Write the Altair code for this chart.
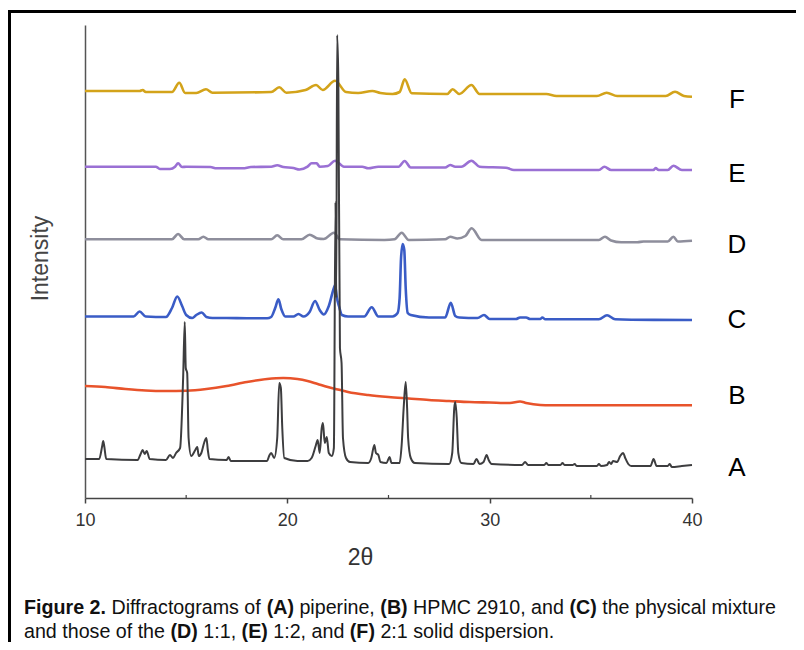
import altair as alt
import pandas as pd

# ---------------- data (2theta, intensity in arbitrary units) -------------
trace_A = [
    (10.0, 39), (10.7, 39), (10.85, 52), (10.9, 57), (10.95, 52), (11.05, 39),
    (12.6, 38), (12.75, 44), (12.85, 48), (12.95, 44), (13.05, 47), (13.2, 39),
    (14.0, 38), (14.2, 43), (14.35, 40), (14.5, 45), (14.7, 50), (14.85, 120),
    (14.93, 176), (14.98, 130), (15.05, 125), (15.12, 60), (15.25, 42), (15.45, 48),
    (15.55, 51), (15.62, 42), (15.75, 45), (15.9, 56), (16.0, 60), (16.07, 48),
    (16.15, 39), (17.0, 38), (17.1, 41), (17.2, 37), (19.0, 37), (19.1, 42),
    (19.2, 45), (19.35, 40), (19.5, 60), (19.6, 115), (19.68, 110), (19.75, 70),
    (19.85, 40), (20.5, 37), (21.0, 37), (21.2, 40), (21.4, 52), (21.5, 58),
    (21.6, 45), (21.7, 70), (21.76, 75), (21.85, 55), (21.95, 61), (22.05, 45),
    (22.2, 42), (22.3, 50), (22.38, 296), (22.42, 200), (22.46, 463), (22.52, 420),
    (22.6, 150), (22.68, 135), (22.75, 60), (22.9, 40), (23.1, 36), (24.0, 35),
    (24.15, 40), (24.3, 53), (24.38, 45), (24.5, 43), (24.6, 36), (24.9, 35),
    (25.05, 41), (25.15, 35), (25.55, 35), (25.65, 53), (25.75, 90), (25.85, 116),
    (25.92, 90), (25.97, 60), (26.1, 40), (26.3, 35), (28.0, 34), (28.15, 45),
    (28.25, 90), (28.3, 96), (28.37, 81), (28.45, 45), (28.6, 35), (29.2, 34),
    (29.35, 39), (29.5, 34), (29.7, 36), (29.85, 43), (29.95, 38), (30.1, 34),
    (31.6, 33), (31.75, 36), (31.9, 33), (32.7, 33), (32.8, 35), (32.9, 33),
    (33.5, 33), (33.6, 35), (33.7, 33), (34.1, 33), (34.2, 34), (34.3, 32),
    (35.3, 32), (35.4, 34), (35.5, 32), (35.8, 33), (35.9, 36), (36.0, 34),
    (36.1, 37), (36.3, 36), (36.45, 42), (36.6, 45), (36.7, 40), (36.85, 34),
    (37.0, 32), (37.95, 32), (38.1, 39), (38.25, 32), (38.8, 32), (38.9, 34),
    (39.0, 31), (39.5, 32), (40.0, 33),
]

trace_B = [
    (10.0, 112), (11.0, 111), (12.0, 109), (13.0, 107.5), (14.0, 107), (15.0, 107.3),
    (16.0, 109), (17.0, 112), (18.0, 116), (19.0, 119), (19.8, 120), (20.5, 119),
    (21.0, 117), (21.5, 114), (22.0, 111), (22.5, 108.5), (23.0, 106), (24.0, 103),
    (25.0, 101), (26.0, 99.5), (27.0, 98), (28.0, 97), (29.0, 96), (30.0, 95.5),
    (31.0, 95), (31.5, 96.5), (31.8, 95), (32.5, 93), (33.0, 92.7), (35.0, 92.7),
    (40.0, 92.7),
]

trace_C = [
    (10.0, 181.5), (12.4, 181.5), (12.7, 186.5), (13.0, 181.5), (14.0, 181),
    (14.3, 190), (14.56, 201.5), (14.8, 192), (15.0, 183), (15.3, 180), (15.5, 183),
    (15.77, 185.5), (16.0, 181), (16.3, 180), (17.0, 180), (18.0, 179.7),
    (19.0, 179.7), (19.2, 181), (19.4, 190), (19.56, 198.7), (19.7, 189),
    (19.9, 181.5), (20.3, 181.5), (20.55, 184), (20.8, 181.5), (21.1, 186),
    (21.37, 197), (21.6, 188), (21.8, 183.5), (22.05, 192), (22.3, 210),
    (22.36, 213), (22.45, 200), (22.55, 192), (22.7, 183), (23.0, 181.5),
    (23.8, 181.5), (24.17, 190.7), (24.5, 181.5), (25.2, 181.5), (25.45, 185),
    (25.55, 200), (25.62, 240), (25.7, 254), (25.78, 248), (25.85, 210),
    (25.95, 185), (26.1, 183), (27.0, 180.5), (27.8, 180.5), (28.08, 195.3),
    (28.3, 182), (28.5, 180.5), (29.4, 180), (29.72, 183), (30.0, 179),
    (31.3, 179), (31.5, 180.5), (31.8, 180.5), (32.0, 179), (32.5, 179),
    (32.6, 180.5), (32.75, 178.7), (35.4, 178.7), (35.8, 182.7), (36.2, 178.7),
    (37.0, 178.2), (40.0, 178),
]

trace_D = [
    (10.0, 258.7), (14.3, 258.7), (14.6, 264), (14.9, 258.7), (15.6, 258.7),
    (15.85, 261.3), (16.1, 258.7), (19.2, 258.7), (19.5, 262.7), (19.8, 258.7),
    (20.7, 258.7), (21.1, 263.3), (21.5, 259.5), (21.8, 259), (22.3, 265.3),
    (22.6, 258.7), (24.8, 258), (25.3, 258.7), (25.65, 265.3), (26.0, 258),
    (27.8, 258.7), (28.05, 261.3), (28.4, 259.5), (28.8, 262), (29.11, 269.7),
    (29.6, 258), (35.4, 258), (35.7, 261.3), (36.0, 257.5), (36.5, 255.7),
    (37.3, 255.7), (37.6, 256.5), (38.8, 256.5), (39.08, 261.3), (39.3, 256.5),
    (40.0, 257.3),
]

trace_E = [
    (10.0, 331.3), (13.5, 331.3), (13.7, 329), (14.2, 329), (14.45, 331.3),
    (14.6, 334.7), (14.8, 331), (15.0, 331.3), (16.2, 331), (16.5, 329.7),
    (17.8, 329.7), (18.2, 331), (19.2, 331.3), (19.5, 332.7), (19.8, 331),
    (20.3, 330), (20.6, 328.5), (21.0, 331.3), (21.2, 334.7), (21.45, 334.7),
    (21.6, 331.3), (22.0, 332), (22.36, 337.3), (22.8, 331.3), (23.7, 331.3),
    (24.0, 329.7), (24.5, 331.3), (25.5, 331.3), (25.8, 337), (26.1, 330.5),
    (27.8, 330.5), (28.05, 333), (28.3, 331.3), (28.6, 331.3), (29.1, 337.3),
    (29.5, 331.3), (30.8, 330.3), (31.2, 328), (35.4, 328), (35.67, 331.3),
    (36.0, 328), (38.1, 328), (38.2, 330), (38.35, 328), (38.8, 328),
    (39.08, 332.3), (39.5, 328), (40.0, 328),
]

trace_F = [
    (10.0, 407), (12.7, 407), (12.85, 408), (13.0, 406), (14.3, 406), (14.66, 415.3),
    (14.95, 405), (15.5, 405), (15.98, 408.7), (16.3, 405.3), (19.2, 406),
    (19.6, 410.7), (19.95, 405.3), (20.9, 408), (21.42, 413), (21.75, 408),
    (22.36, 417.3), (22.9, 406), (23.5, 405), (24.2, 407), (24.6, 405), (25.2, 404),
    (25.55, 406), (25.8, 418.7), (26.15, 404.7), (27.9, 404), (28.17, 408.7),
    (28.5, 404), (29.1, 413), (29.5, 404), (32.8, 404), (33.3, 402), (35.3, 402),
    (35.78, 405.3), (36.3, 402), (38.7, 402), (39.16, 406.3), (39.6, 402),
    (40.0, 401.3),
]

series_names = ["A", "B", "C", "D", "E", "F"]
series_colors = ["#3d3d3f", "#e8532b", "#3a5cc6", "#8e8e9c", "#9a70d4", "#d3a31a"]
label_levels = [30, 102, 178, 253, 324, 398]   # where the letters sit

x_ticks = [10, 20, 30, 40]
x_minor = [15, 25, 35]

caption_line1 = [("Figure 2.", True), ("Diffractograms of", False), ("(A)", True),
                 ("piperine,", False), ("(B)", True), ("HPMC 2910, and", False),
                 ("(C)", True), ("the physical mixture", False)]
caption_line2 = [("and those of the", False), ("(D)", True), ("1:1,", False), ("(E)", True),
                 ("1:2, and", False), ("(F)", True), ("2:1 solid dispersion.", False)]

# ---------------- layout ----------------
W, H = 607, 473
CAP_X0 = -61          # caption left edge, relative to plot origin
CAP_Y = [583, 607]    # caption line centres
CAP_W1 = 752          # width of the first caption line in the reference

# Arial / Liberation Sans advance widths (1/1000 em)
REG = {' ': 278, '(': 333, ')': 333, ',': 278, '.': 278, ':': 278,
       'A': 667, 'B': 667, 'C': 722, 'D': 722, 'E': 667, 'F': 611, 'H': 722, 'M': 833, 'P': 667,
       'a': 556, 'b': 556, 'c': 500, 'd': 556, 'e': 556, 'f': 278, 'g': 556, 'h': 556,
       'i': 222, 'l': 222, 'm': 833, 'n': 556, 'o': 556, 'p': 556, 'r': 333, 's': 500,
       't': 278, 'u': 556, 'x': 500, 'y': 500}
BLD = {' ': 278, '(': 333, ')': 333, '.': 278, 'A': 722, 'B': 722, 'C': 722, 'D': 722,
       'E': 667, 'F': 611, 'i': 278, 'g': 611, 'u': 611, 'r': 389, 'e': 556}


def em_width(s, bold):
    tbl = BLD if bold else REG
    return sum(tbl.get(ch, 556) for ch in s) / 1000.0


def line_em(segs):
    return sum(em_width(t, b) for t, b in segs) + 0.278 * (len(segs) - 1)


CAP_FS = CAP_W1 / line_em(caption_line1)

cap_rows = []
for li, segs in enumerate([caption_line1, caption_line2]):
    xpos = CAP_X0
    for t, b in segs:
        cap_rows.append({"t": t, "bold": b, "px": xpos, "py": CAP_Y[li]})
        xpos += (em_width(t, b) + 0.278) * CAP_FS
cap_df = pd.DataFrame(cap_rows)

traces = {"A": trace_A, "B": trace_B, "C": trace_C, "D": trace_D, "E": trace_E, "F": trace_F}
rows = []
for name in series_names:
    for i, (tx, ty) in enumerate(traces[name]):
        rows.append({"series": name, "two_theta": tx, "intensity": ty, "idx": i})
df = pd.DataFrame(rows)

xscale = alt.Scale(domain=[10, 40], nice=False, zero=False)
yscale = alt.Scale(domain=[0, H], nice=False, zero=False)
color = alt.Color("series:N", scale=alt.Scale(domain=series_names, range=series_colors), legend=None)

border = alt.Chart(pd.DataFrame({"k": [0]})).mark_rect(
    fill=None, stroke="black", strokeWidth=3
).encode(x=alt.value(-75.5), x2=alt.value(W + 300), y=alt.value(-13.5), y2=alt.value(H + 400))

xaxis = alt.Axis(values=x_ticks, format="d", grid=False, domainColor="#444",
                 domainWidth=1.5, tickColor="#444", tickWidth=1.5, tickSize=5,
                 labelFont="Liberation Sans", labelFontSize=18, labelColor="#333",
                 labelPadding=8, labelFlush=False, title="2θ", titleFont="Liberation Sans",
                 titleFontSize=23, titleFontWeight="normal", titleColor="#333",
                 titleX=275, titleY=59, titleAlign="center", titleBaseline="middle")
yaxis = alt.Axis(grid=False, ticks=False, labels=False, domainColor="#555",
                 domainWidth=1.5, title="Intensity", titleFont="Liberation Sans",
                 titleFontSize=23, titleFontWeight="normal", titleColor="#444",
                 titleX=-45, titleY=233, titleAngle=270, titleAlign="center",
                 titleBaseline="middle")

line_A = alt.Chart(df[df.series == "A"]).mark_line(strokeWidth=2.0, interpolate="monotone").encode(
    x=alt.X("two_theta:Q", scale=xscale, axis=xaxis),
    y=alt.Y("intensity:Q", scale=yscale, axis=yaxis),
    color=color, detail="series:N", order="idx:Q",
)
line_rest = alt.Chart(df[df.series != "A"]).mark_line(strokeWidth=2.6, interpolate="monotone").encode(
    x=alt.X("two_theta:Q", scale=xscale),
    y=alt.Y("intensity:Q", scale=yscale),
    color=color, detail="series:N", order="idx:Q",
)

minor = alt.Chart(pd.DataFrame({"t": x_minor})).mark_rule(color="#444", strokeWidth=1.2).encode(
    x=alt.X("t:Q", scale=xscale), y=alt.value(H - 3), y2=alt.value(H)
)

labels = alt.Chart(pd.DataFrame({"s": series_names, "lv": label_levels})).mark_text(
    font="Liberation Sans", fontSize=26, color="black", align="center", baseline="middle"
).encode(x=alt.value(652), y=alt.Y("lv:Q", scale=yscale), text="s:N")

cap_b = alt.Chart(cap_df[cap_df.bold]).mark_text(
    font="Liberation Sans", fontSize=CAP_FS, fontWeight="bold", color="#111", align="left",
    baseline="middle").encode(x=alt.X("px:Q", scale=None), y=alt.Y("py:Q", scale=None), text="t:N")

cap_n = alt.Chart(cap_df[~cap_df.bold]).mark_text(
    font="Liberation Sans", fontSize=CAP_FS, color="#111", align="left",
    baseline="middle").encode(x=alt.X("px:Q", scale=None), y=alt.Y("py:Q", scale=None), text="t:N")

chart = alt.layer(border, line_rest, line_A, minor, labels, cap_b, cap_n).properties(
    width=W, height=H,
    autosize=alt.AutoSizeParams(type="none"),
    padding={"left": 77, "top": 17, "right": 104, "bottom": 144},
).configure_view(stroke=None)

chart.save("out.html", embed_options={"renderer": "svg", "actions": False})
